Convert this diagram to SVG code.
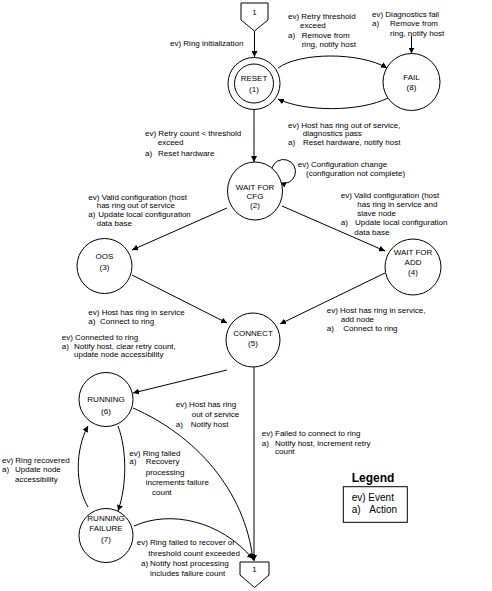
<svg xmlns="http://www.w3.org/2000/svg" width="492" height="591" viewBox="0 0 492 591">
<defs>
<style>
text{font-family:"Liberation Sans",Arial,sans-serif;fill:#000}
.lb{font-size:8px}
.nd{font-size:8px;text-anchor:middle}
.st{fill:#fff;stroke:#000;stroke-width:1}
.cn{fill:none;stroke:#000;stroke-width:1;marker-end:url(#ah)}
</style>
<marker id="ah" viewBox="0 0 6 6" refX="6" refY="3" markerWidth="6" markerHeight="6" markerUnits="userSpaceOnUse" orient="auto">
<path d="M0,0 L6,3 L0,6 z" fill="#000"/>
</marker>
</defs>
<rect width="492" height="591" fill="#fff"/>

<g id="connectors">
<path class="cn" d="M254.5,31 L254.5,57"/>
<path class="cn" d="M278,68 C300,52 360,52 387,68"/>
<path class="cn" d="M388,98 C360,112 305,112 278,99"/>
<path class="cn" d="M411.5,36 L411.5,53.5"/>
<path class="cn" d="M254,110 L254,162"/>
<path class="cn" d="M272,168 A12,12 0 1 1 280,183"/>
<path class="cn" d="M227,208 L132,250"/>
<path class="cn" d="M282,206 L385,251"/>
<path class="cn" d="M132,275 L227,323"/>
<path class="cn" d="M385,273 L280,324"/>
<path class="cn" d="M227,370 L133,393"/>
<path class="cn" d="M254,367 L254,561"/>
<path class="cn" d="M133,408 C195,435 245,490 253,560"/>
<path class="cn" d="M134,526 C170,510 220,520 253,559"/>
<path class="cn" d="M118,426 C127,450 127,485 118,511"/>
<path class="cn" d="M88,507 C75,485 75,450 88,426"/>
</g>

<g id="conn-top">
<polygon class="st" points="241,3 268,3 268,20 254.5,31 241,20"/>
<text class="nd" x="254.5" y="15">1</text>
</g>
<g id="conn-bottom">
<polygon class="st" points="240,562 269,562 269,575 254.5,587.5 240,575"/>
<text class="nd" x="254.5" y="572">1</text>
</g>

<g id="reset">
<circle class="st" cx="254" cy="83.5" r="26"/>
<circle class="st" cx="254" cy="83.5" r="19.5"/>
<text class="nd" x="254" y="80.5">RESET</text>
<text class="nd" x="254" y="92">(1)</text>
</g>
<g id="fail">
<circle class="st" cx="411.5" cy="82" r="28.5"/>
<text class="nd" x="411.5" y="80.3">FAIL</text>
<text class="nd" x="411.5" y="89.5">(8)</text>
</g>
<g id="wait-cfg">
<ellipse class="st" cx="255" cy="191" rx="27.5" ry="29"/>
<text class="nd" x="255" y="190">WAIT FOR</text>
<text class="nd" x="255" y="198.5">CFG</text>
<text class="nd" x="255" y="208">(2)</text>
</g>
<g id="oos">
<circle class="st" cx="104.5" cy="266" r="27.5"/>
<text class="nd" x="104.5" y="259">OOS</text>
<text class="nd" x="104.5" y="270">(3)</text>
</g>
<g id="wait-add">
<circle class="st" cx="413" cy="267" r="28"/>
<text class="nd" x="413" y="255.3">WAIT FOR</text>
<text class="nd" x="413" y="264.7">ADD</text>
<text class="nd" x="413" y="275.3">(4)</text>
</g>
<g id="connect">
<circle class="st" cx="253" cy="340" r="27"/>
<text class="nd" x="253" y="336.3">CONNECT</text>
<text class="nd" x="253" y="346.3">(5)</text>
</g>
<g id="running">
<circle class="st" cx="106" cy="399.5" r="27"/>
<text class="nd" x="106" y="402.3">RUNNING</text>
<text class="nd" x="106" y="413.7">(6)</text>
</g>
<g id="running-failure">
<circle class="st" cx="106" cy="535.5" r="27"/>
<text class="nd" x="106" y="520.7">RUNNING</text>
<text class="nd" x="106" y="530.7">FAILURE</text>
<text class="nd" x="106" y="542.3">(7)</text>
</g>

<g id="labels" class="lb">
<text x="170" y="46">ev) Ring initialization</text>

<text x="288" y="19">ev) Retry threshold</text>
<text x="300" y="28">exceed</text>
<text x="288" y="37.5">a)</text>
<text x="301.7" y="37.5">Remove from</text>
<text x="301.7" y="47">ring, notify host</text>

<text x="372" y="17">ev) Diagnostics fail</text>
<text x="372" y="25.7">a)</text>
<text x="390" y="25.7">Remove from</text>
<text x="390" y="35.7">ring, notify host</text>

<text x="288" y="128">ev) Host has ring out of service,</text>
<text x="302.7" y="135.7">diagnostics pass</text>
<text x="288" y="145.3">a)</text>
<text x="303" y="145.3">Reset hardware, notify host</text>

<text x="145" y="136.3">ev) Retry count &lt; threshold</text>
<text x="157.7" y="145.3">exceed</text>
<text x="145" y="155.7">a)</text>
<text x="158" y="155.7">Reset hardware</text>

<text x="297.7" y="167">ev) Configuration change</text>
<text x="306" y="176.3">(configuration not complete)</text>

<text x="88.3" y="199.7">ev) Valid configuration (host</text>
<text x="96.7" y="208">has ring out of service</text>
<text x="88.3" y="217.3">a)</text>
<text x="98.3" y="217.3">Update local configuration</text>
<text x="96.7" y="226.3">data base</text>

<text x="340.7" y="198">ev) Valid configuration (host</text>
<text x="357.3" y="207">has ring in service and</text>
<text x="357.3" y="215.7">slave node</text>
<text x="340.7" y="225.3">a)</text>
<text x="355" y="225.3">Update local configuration</text>
<text x="354.3" y="234.7">data base</text>

<text x="88.3" y="314.7">ev) Host has ring in service</text>
<text x="88.3" y="324">a)</text>
<text x="100" y="324">Connect to ring</text>

<text x="61.7" y="339.7">ev) Connected to ring</text>
<text x="61.7" y="349">a)</text>
<text x="74" y="349">Notify host, clear retry count,</text>
<text x="74" y="357.3">update node accessibility</text>

<text x="326.7" y="313">ev) Host has ring in service,</text>
<text x="340.7" y="322">add node</text>
<text x="326.7" y="331.3">a)</text>
<text x="343.3" y="331.3">Connect to ring</text>

<text x="175.7" y="407.3">ev) Host has ring</text>
<text x="191.7" y="417.3">out of service</text>
<text x="175.7" y="427.3">a)</text>
<text x="190.7" y="427.3">Notify host</text>

<text x="261.7" y="435.7">ev) Failed to connect to ring</text>
<text x="261.7" y="445.7">a)</text>
<text x="275" y="445.7">Notify host, increment retry</text>
<text x="275" y="454">count</text>

<text x="129.3" y="455.7">ev) Ring failed</text>
<text x="129.3" y="464">a)</text>
<text x="145.7" y="464">Recovery</text>
<text x="145.7" y="474.7">processing</text>
<text x="145.7" y="484.7">increments failure</text>
<text x="152" y="495.3">count</text>

<text x="2" y="463">ev) Ring recovered</text>
<text x="2" y="472.3">a)</text>
<text x="15" y="472.3">Update node</text>
<text x="15" y="482.3">accessibility</text>

<text x="136.7" y="544.7">ev) Ring failed to recover or</text>
<text x="148.3" y="555.7">threshold count exceeded</text>
<text x="141" y="565.7">a)</text>
<text x="150" y="565.7">Notify host processing</text>
<text x="150" y="575.7">includes failure count</text>
</g>

<g id="legend">
<text x="351.7" y="482" style="font-size:12px;font-weight:bold">Legend</text>
<rect class="st" x="343.3" y="486.7" width="64" height="35.6"/>
<text x="351.7" y="500.7" style="font-size:10px">ev) Event</text>
<text x="351.7" y="512.7" style="font-size:10px">a)</text>
<text x="369.3" y="512.7" style="font-size:10px">Action</text>
</g>
</svg>
